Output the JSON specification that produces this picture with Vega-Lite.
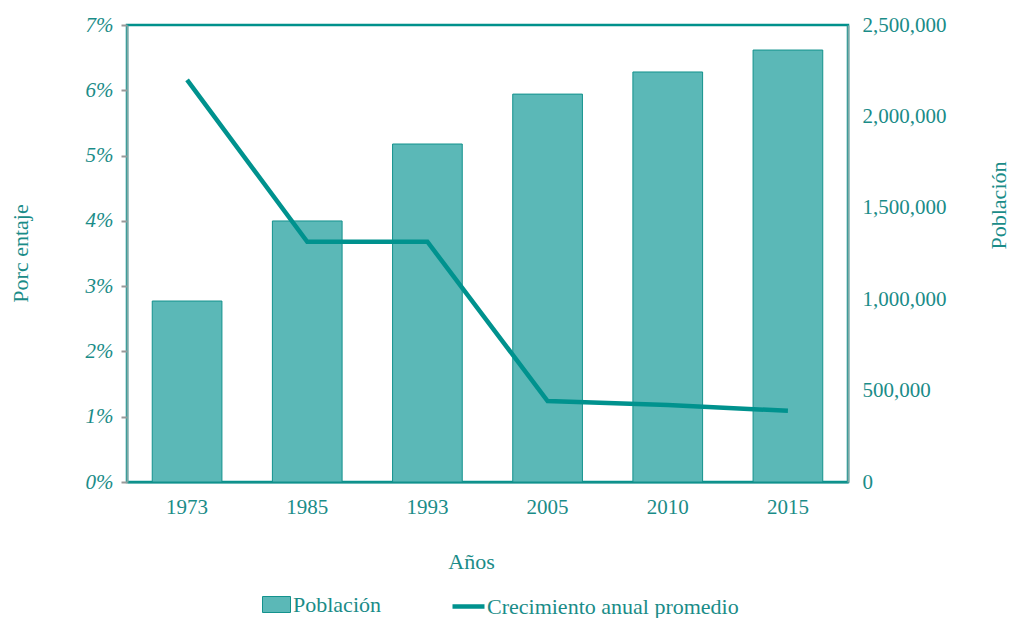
{
  "$schema": "https://vega.github.io/schema/vega-lite/v6.json",
  "width": 721,
  "height": 457,
  "autosize": {"type": "none"},
  "padding": {"left": 127, "top": 25, "right": 162, "bottom": 136},
  "background": "white",
  "data": {
    "values": [
      {"anio": "1973", "poblacion": 990000, "crecimiento": 0.0616},
      {"anio": "1985", "poblacion": 1428000, "crecimiento": 0.0368},
      {"anio": "1993", "poblacion": 1849000, "crecimiento": 0.0368},
      {"anio": "2005", "poblacion": 2122000, "crecimiento": 0.0124},
      {"anio": "2010", "poblacion": 2243000, "crecimiento": 0.0118},
      {"anio": "2015", "poblacion": 2363000, "crecimiento": 0.0109}
    ]
  },
  "encoding": {
    "x": {
      "field": "anio",
      "type": "nominal",
      "sort": null,
      "scale": {"paddingInner": 0.42, "paddingOuter": 0.21},
      "axis": {
        "title": "Años",
        "labelAngle": 0,
        "ticks": false,
        "domainColor": "#13918c",
        "domainWidth": 2,
        "labelPadding": 14,
        "titlePadding": 34,
        "titleX": 344
      }
    }
  },
  "layer": [
    {
      "mark": {"type": "bar", "stroke": "#13928d", "strokeWidth": 1},
      "encoding": {
        "y": {
          "field": "poblacion",
          "type": "quantitative",
          "scale": {"domain": [0, 2500000]},
          "axis": {
            "orient": "right",
            "title": "Población",
            "format": ",.0f",
            "values": [0, 500000, 1000000, 1500000, 2000000, 2500000],
            "ticks": false,
            "grid": false,
            "labelPadding": 14,
            "domainColor": "#7fa8a6",
            "domainWidth": 2,
            "titleAngle": 270,
            "titleAlign": "center",
            "titleBaseline": "middle",
            "titleX": 150,
            "titleY": 180
          }
        },
        "fill": {
          "datum": "Población",
          "type": "nominal",
          "scale": {"range": ["#5bb8b7"]},
          "legend": {
            "title": null,
            "orient": "none",
            "legendX": 133,
            "legendY": 563,
            "symbolType": "M-0.875,-0.5H0.875V0.5H-0.875Z",
            "symbolSize": 1024,
            "symbolStrokeColor": "#13928d",
            "symbolStrokeWidth": 1
          }
        }
      }
    },
    {
      "mark": {"type": "line", "strokeWidth": 4.5},
      "encoding": {
        "y": {
          "field": "crecimiento",
          "type": "quantitative",
          "scale": {"domain": [0, 0.07]},
          "axis": {
            "orient": "left",
            "title": "Porc entaje",
            "format": ".0%",
            "values": [0, 0.01, 0.02, 0.03, 0.04, 0.05, 0.06, 0.07],
            "grid": false,
            "tickColor": "#999999",
            "tickSize": 6,
            "tickWidth": 2,
            "labelPadding": 8,
            "labelFontStyle": "italic",
            "domainColor": "#7fa8a6",
            "domainWidth": 2,
            "titleAngle": 270,
            "titleAlign": "center",
            "titleBaseline": "middle",
            "titleX": -107,
            "titleY": 228
          }
        },
        "stroke": {
          "datum": "Crecimiento anual promedio",
          "type": "nominal",
          "scale": {"range": ["#00928e"]},
          "legend": {
            "title": null,
            "orient": "none",
            "legendX": 323,
            "legendY": 563,
            "symbolType": "stroke",
            "symbolSize": 1024,
            "symbolStrokeWidth": 4.5
          }
        }
      }
    }
  ],
  "resolve": {"scale": {"y": "independent", "fill": "independent", "stroke": "independent"}},
  "config": {
    "font": "Liberation Serif",
    "view": {"stroke": "#00918c", "strokeWidth": 2.5},
    "axis": {
      "labelFont": "Liberation Serif",
      "titleFont": "Liberation Serif",
      "labelFontSize": 21,
      "titleFontSize": 22,
      "titleFontWeight": "normal",
      "labelColor": "#1a8c88",
      "titleColor": "#1a8c88"
    },
    "legend": {
      "direction": "horizontal",
      "labelFont": "Liberation Serif",
      "labelFontSize": 22,
      "labelLimit": 500,
      "labelColor": "#1a8c88",
      "labelOffset": 0,
      "padding": 0
    }
  }
}
